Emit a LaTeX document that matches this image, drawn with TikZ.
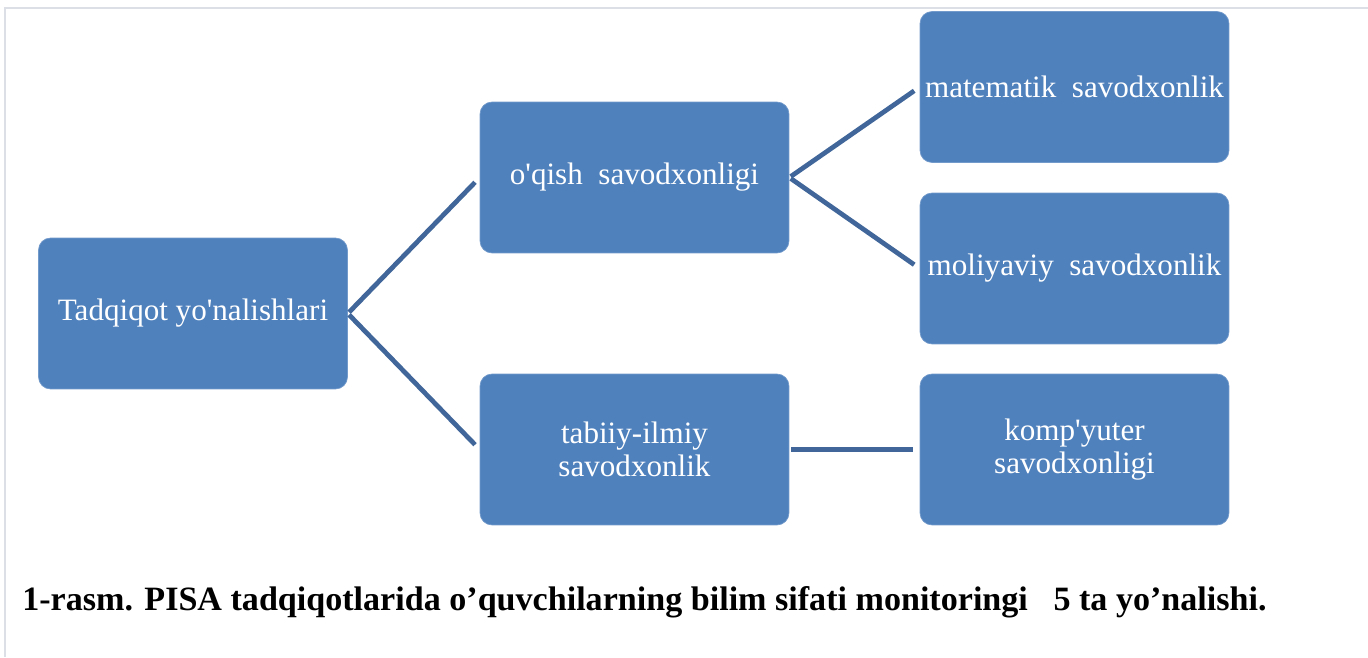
\documentclass[tikz,border=0pt]{standalone}
\usepackage{fontspec}
\setmainfont{Liberation Serif}
\newfontfamily\boxfont{Liberation Serif}
\usetikzlibrary{positioning}
\definecolor{boxblue}{HTML}{4F81BD}
\definecolor{linkblue}{HTML}{41679A}
\definecolor{framegray}{HTML}{DCE0E6}

\begin{document}
\begin{tikzpicture}[x=0.02cm,y=0.02cm,
  topic/.style={draw=boxblue!80!white,line width=0.4pt,fill=boxblue,rounded corners=0.24cm,
    minimum width=6.18cm,minimum height=3.02cm,inner sep=2pt,text=white,align=center,
    font=\boxfont\fontsize{17.7}{19}\selectfont},
  link/.style={linkblue,line width=2.7pt,shorten <=1pt,shorten >=3.8pt}]
\useasboundingbox (0,0) rectangle (1368,657);
\draw[framegray,line width=0.6pt] (5,0) |- (1368,649);
% boxes
\node[topic] (root) at (193,343.5) {Tadqiqot yo'nalishlari};
\node[topic] (read) at (634.5,479.5) {o'qish\ \ savodxonligi};
\node[topic] (sci) at (634.5,207.5) {tabiiy-ilmiy\\savodxonlik};
\node[topic] (math) at (1074.5,570) {matematik\ \ savodxonlik};
\node[topic] (fin) at (1074.5,388.5) {moliyaviy\ \ savodxonlik};
\node[topic] (comp) at (1074.5,207.5) {komp'yuter\\savodxonligi};
% links
\draw[link] (root.east) -- (read.west);
\draw[link] (root.east) -- (sci.west);
\draw[link] (read.east) -- (math.west);
\draw[link] (read.east) -- (fin.west);
\draw[link] (sci.east) -- (comp.west);
% caption
\node[anchor=base west,inner sep=0pt,font=\bfseries\fontsize{19.4}{23}\selectfont] (cap) at (22,47)
  {1-rasm. PISA tadqiqotlarida o’quvchilarning bilim sifati monitoringi\ \ \ 5 ta yo’nalishi.};
\end{tikzpicture}
\end{document}
